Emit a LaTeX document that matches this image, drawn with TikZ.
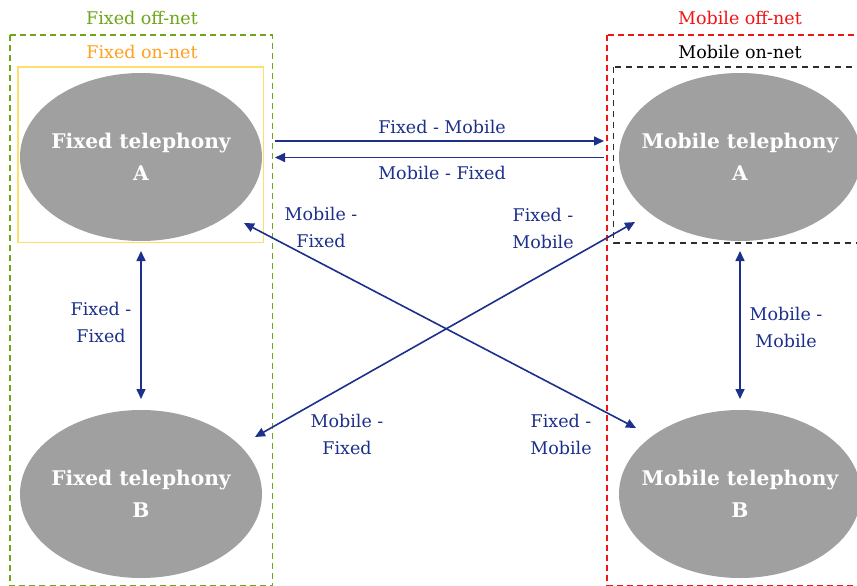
\documentclass[tikz,border=0pt]{standalone}
\usepackage{fontspec}
\setmainfont{DejaVu Serif}
\usetikzlibrary{shapes.geometric,arrows.meta}
\definecolor{linkblue}{RGB}{28,48,140}
\definecolor{offgreen}{RGB}{110,165,25}
\definecolor{onorange}{RGB}{255,160,30}
\definecolor{onyellow}{RGB}{255,222,110}
\definecolor{offred}{RGB}{240,20,20}
\definecolor{ongray}{RGB}{45,45,45}
\definecolor{bubble}{RGB}{160,160,160}
\tikzset{
  phone/.style={ellipse, fill=bubble, draw=none, minimum width=242pt, minimum height=168pt,
    inner sep=0pt},
  phonetext/.style={inner sep=0pt, text=white, align=center, font=\fontsize{20.2}{32}\selectfont\bfseries},
  zonelabel/.style={font=\fontsize{17.5}{20}\selectfont, inner sep=0pt},
  flowlabel/.style={text=linkblue, align=center, inner sep=0pt, font=\fontsize{17.5}{27}\selectfont},
  tip/.tip={Triangle[length=10pt,width=9pt]},
  flow/.style={draw=linkblue, line width=1.6pt, -tip},
  flowboth/.style={draw=linkblue, line width=1.6pt, tip-tip},
  zonedash/.style={line width=1.2pt, dash pattern=on 6pt off 4pt}
}
\begin{document}
\begin{tikzpicture}[x=1pt,y=-1pt]
\useasboundingbox (0,0) rectangle (857,586);
\clip (0,0) rectangle (857,586);
\fill[white] (0,0) rectangle (857,586);

% zones
\draw[zonedash, draw=offgreen] (10,35) rectangle (272.5,585.5);
\draw[line width=1.1pt, draw=onyellow] (18,67) rectangle (263.5,242.5);
\draw[zonedash, draw=offred] (607,35) rectangle (870,585.5);
\draw[zonedash, draw=ongray, dash pattern=on 6pt off 5pt] (613.5,67) rectangle (870,243);

\node[zonelabel, text=offgreen] (lfoff) at (142,18) {Fixed off-net};
\node[zonelabel, text=onorange] (lfon) at (142,52) {Fixed on-net};
\node[zonelabel, text=offred] (lmoff) at (740,18) {Mobile off-net};
\node[zonelabel, text=black] (lmon) at (740,52) {Mobile on-net};

% telephony networks
\node[phone] (fa) at (141,157) {};
\node[phone] (fb) at (141,494) {};
\node[phone] (ma) at (740,157) {};
\node[phone] (mb) at (740,494) {};
\node[phonetext] (fatxt) at (fa) {Fixed telephony\\A};
\node[phonetext] (fbtxt) at (fb) {Fixed telephony\\B};
\node[phonetext] (matxt) at (ma) {Mobile telephony\\A};
\node[phonetext] (mbtxt) at (mb) {Mobile telephony\\B};

% connector end points
\coordinate (faR1) at (275,141);
\coordinate (maL1) at (604,141);
\coordinate (faR2) at (275,157.5);
\coordinate (maL2) at (604,157.5);
\coordinate (faD) at (141,251);
\coordinate (fbU) at (141,399);
\coordinate (maD) at (740,251);
\coordinate (mbU) at (740,399);
\coordinate (faX) at (244,223);
\coordinate (mbX) at (636,428);
\coordinate (fbX) at (255,437);
\coordinate (maX) at (635,222);

% calls between networks
\draw[flow] (faR1) -- (maL1);
\draw[flow] (maL2) -- (faR2);
\draw[flowboth] (faD) -- (fbU);
\draw[flowboth] (maD) -- (mbU);
\draw[flowboth] (faX) -- (mbX);
\draw[flowboth] (fbX) -- (maX);

% call labels
\node[flowlabel] (tfm) at (442,127) {Fixed - Mobile};
\node[flowlabel] (tmf) at (442,173) {Mobile - Fixed};
\node[flowlabel] (tff) at (101,322) {Fixed -\\Fixed};
\node[flowlabel] (tmm) at (786,327) {Mobile -\\Mobile};
\node[flowlabel] (tmf1) at (321,227) {Mobile -\\Fixed};
\node[flowlabel] (tfm1) at (543,228) {Fixed -\\Mobile};
\node[flowlabel] (tmf2) at (347,434) {Mobile -\\Fixed};
\node[flowlabel] (tfm2) at (561,434) {Fixed -\\Mobile};
\end{tikzpicture}
\end{document}
